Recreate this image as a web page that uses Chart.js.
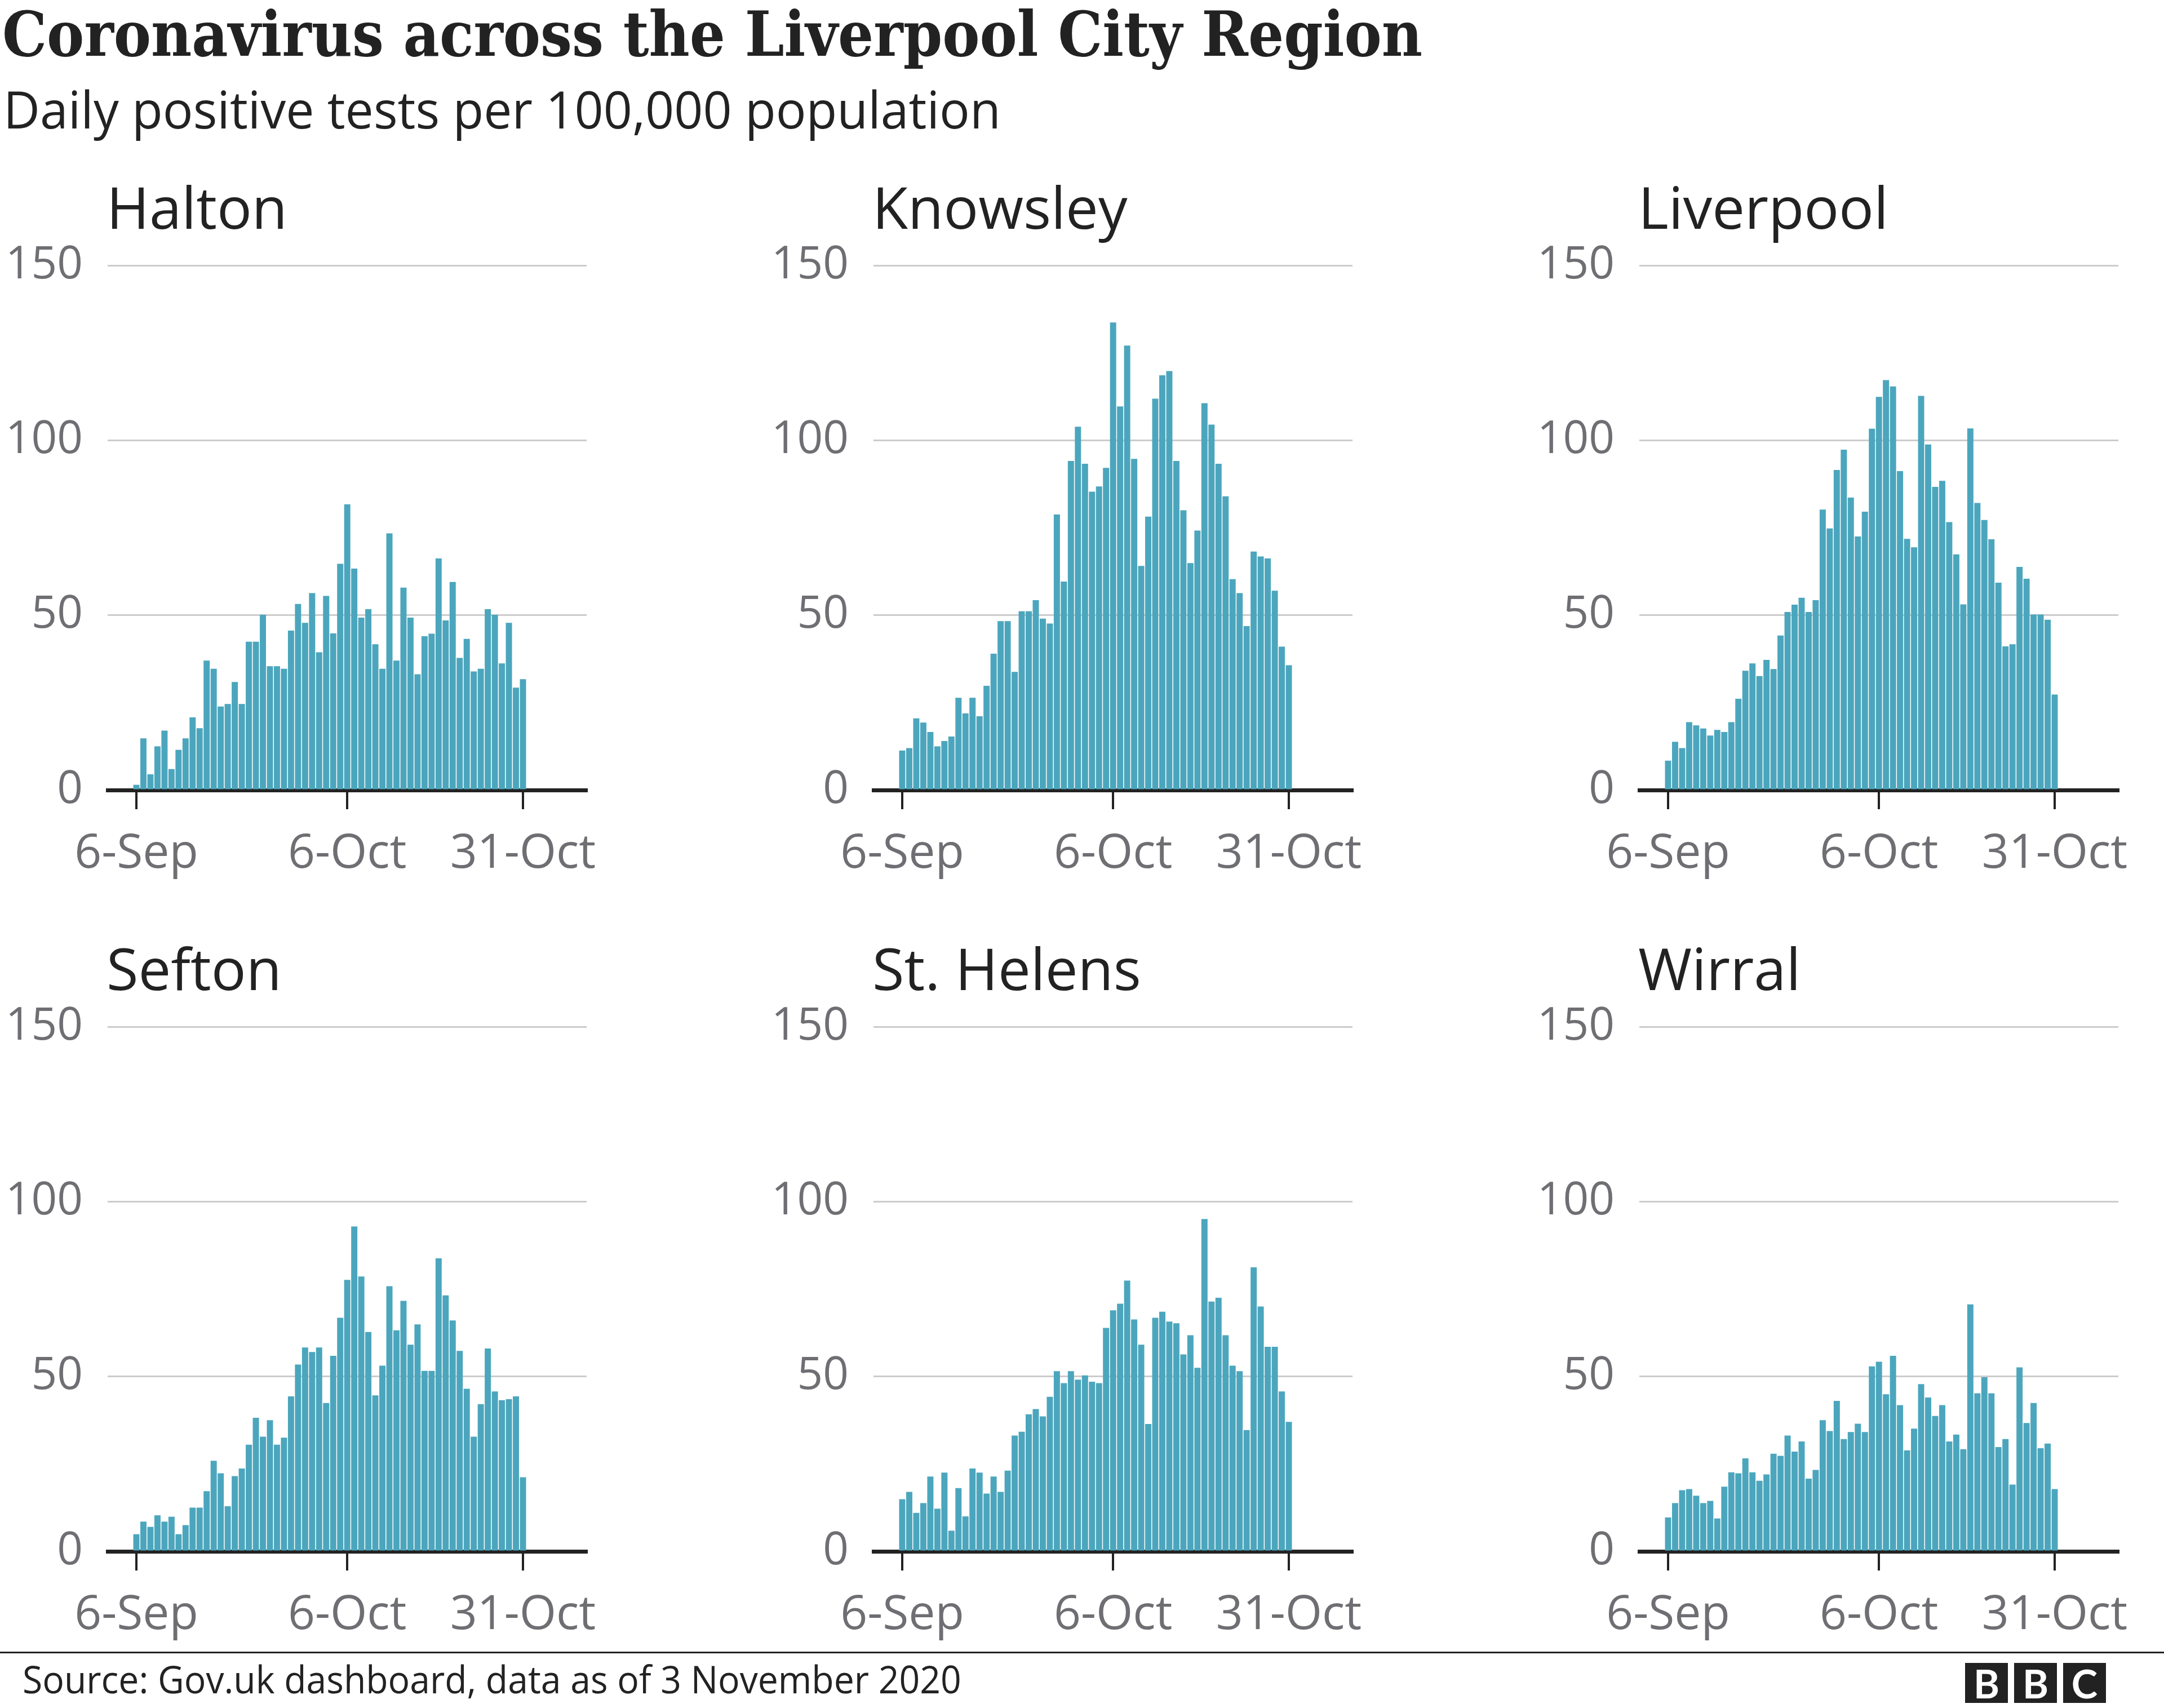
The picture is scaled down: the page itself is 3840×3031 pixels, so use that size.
<!DOCTYPE html>
<html>
<head>
<meta charset="utf-8">
<script src="https://cdn.jsdelivr.net/npm/chart.js@4.4.1/dist/chart.umd.min.js"></script>
<style>
  html, body { margin:0; padding:0; background:#fff; }
  body { width:3840px; height:3031px; position:relative; overflow:hidden; }
  .txt { position:absolute; white-space:nowrap; color:#222; z-index:5; transform-origin:0 0; line-height:1.2; }
  canvas.panel { position:absolute; z-index:1; }
  .bbc { position:absolute; background:#222; color:#fff; font-family:Lato, "Open Sans", sans-serif; font-weight:700;
         display:flex; align-items:center; justify-content:center; z-index:5; }
</style>
</head>
<body>
<div id="title" class="txt" style="font-family:'DejaVu Serif', serif; font-weight:700;">Coronavirus across the Liverpool City Region</div>
<div id="subtitle" class="txt" style="font-family:'Open Sans', sans-serif;">Daily positive tests per 100,000 population</div>
<div id="source" class="txt" style="font-family:'Open Sans', sans-serif;">Source: Gov.uk dashboard, data as of 3 November 2020</div>
<div style="position:absolute; left:0; top:2931px; width:3840px; height:3px; background:#222;"></div>
<script>
// ---------------- data ----------------
const areaNames = ['Halton', 'Knowsley', 'Liverpool', 'Sefton', 'St. Helens', 'Wirral'];
const tickDays = [0, 30, 55];
const tickLabels = ['6-Sep', '6-Oct', '31-Oct'];
const yTicks = [0, 50, 100, 150];

const halton = [1.5,14.8,4.5,12.5,17,6,11.5,14.8,20.8,17.7,37,34.7,23.9,24.6,30.9,24.6,42.4,42.4,50.1,35.4,35.4,34.7,45.6,53.2,47.8,56.3,39.4,55.5,44.8,64.7,81.7,63.3,49.3,51.7,41.7,34.7,73.4,37,57.9,49.3,33.1,44,44.7,66.2,48.5,59.5,37.8,43.2,33.9,34.7,51.7,50.1,36.2,47.8,29.3,31.7];
const knowsley = [11.3,12,20.5,19.3,16.6,12.5,14,15.3,26.4,21.9,26.4,21.1,29.8,39,48.3,48.3,33.8,51.1,51.1,54.3,49,47.6,78.8,59.6,94.1,103.9,93.3,85.3,86.8,92.1,133.7,109.7,127.1,94.7,64.1,78.2,111.9,118.6,119.8,94.1,80,64.9,74.2,110.6,104.5,93.3,84,60.3,56.3,46.9,68.2,66.8,66.2,57,41,35.7];
const liverpool = [8.4,13.8,12,19.4,18.5,17.6,15.6,17.2,16.6,19.4,26.1,34.1,36.2,32.6,37.2,34.6,44.2,50.9,53,55,50.9,54.3,80.2,74.8,91.5,97.3,83.6,72.5,79.6,103.3,112.4,117.2,115.4,91.2,71.8,69.4,112.7,98.8,86.7,88.4,76.6,67.4,53.1,103.4,82.1,77.2,71.7,59.3,41.1,41.7,63.8,60.4,50.2,50.2,48.7,27.3];
const sefton = [4.9,8.5,7,10.3,8.5,9.9,4.9,7.5,12.5,12.5,17.2,25.9,22.3,12.9,21.5,23.7,30.5,38.2,32.8,37.5,30.5,32.5,44.3,53.4,58.3,57,58.3,42.4,55.9,66.8,77.6,92.9,78.6,62.7,44.6,53.1,75.8,63.2,71.6,59.1,64.9,51.6,51.6,83.8,73.2,66,57.3,46.5,32.8,42.1,58,45.7,43.2,43.5,44.3,21.2];
const stHelens = [14.9,17,11,13.8,21.4,12.2,22.5,5.9,18.1,10,23.7,22.5,16.5,21.4,17,23.1,33.1,34.2,39.2,40.7,38.6,44.2,51.5,48.1,51.5,49.1,50.3,48.5,48.1,63.9,68.9,70.8,77.4,66.3,59.1,36.4,66.8,68.5,65.7,65.2,56.3,61.8,52.5,95,71.4,72.5,61.8,53.1,51.5,34.7,81.2,70,58.5,58.5,45.7,37];
const wirral = [9.7,13.8,17.5,17.8,15.9,13.8,14.4,9.4,18.5,22.6,22.3,26.6,22.6,20.2,22,27.9,27.3,33.1,28.5,31.4,20.8,23.3,37.5,34.4,43,32.1,34.1,36.5,34.1,52.9,54.2,44.9,55.9,41.8,28.9,35.1,47.8,44,38.7,41.8,31.4,33.4,29.2,70.6,45.2,49.8,45.2,29.8,32.1,19.1,52.6,36.7,42.4,29.5,30.8,17.8];
const areaValues = [halton, knowsley, liverpool, sefton, stHelens, wirral];

// ---------------- layout ----------------
const COL_OFF = [0, 1359, 2718];
const ROW_OFF = [0, 1351];
const Y_LABEL_SIZE = 80, Y_LABEL_PAD = 44;
// Chart.js reserves (label line height / 2 + padding) above the area for the y labels
const AREA_TOP = Y_LABEL_SIZE * 1.2 / 2 + Y_LABEL_PAD;          // 92
const TOP_GRID_Y = 471, ZERO_Y = 1402;                            // page px of 150 / 0 lines in row 1
const CANVAS_TOP = TOP_GRID_Y - AREA_TOP;
const AREA_BOTTOM = ZERO_Y - CANVAS_TOP;
const CANVAS_W = 1130, CANVAS_H = AREA_BOTTOM + 228;
const AREA_LEFT = 191, AREA_RIGHT = 1041;
const FIRST_TICK_PX = 242, LAST_TICK_PX = 928;
const PX_PER_DAY = (LAST_TICK_PX - FIRST_TICK_PX) / (tickDays[2] - tickDays[0]);
const X_MIN = -(FIRST_TICK_PX - AREA_LEFT) / PX_PER_DAY;
const X_MAX = tickDays[2] + (AREA_RIGHT - LAST_TICK_PX) / PX_PER_DAY;
const BAR = '#4ba6bd';
const GREY = '#6e6e73';
const FONT = "'Open Sans', sans-serif";

function placeText(el, left, baseline, size, targetWidth) {
  el.style.fontSize = size + 'px';
  el.style.left = left + 'px';
  el.style.top = '0px';
  const m = document.createElement('span');
  m.style.cssText = 'display:inline-block;width:0;height:0;vertical-align:baseline';
  el.appendChild(m);
  const b = m.offsetTop;
  el.style.top = (baseline - b) + 'px';
  if (targetWidth) {
    const w = el.offsetWidth;
    el.style.transform = 'scaleX(' + (targetWidth / w) + ')';
  }
}

placeText(document.getElementById('title'), 4, 99, 111, 2520);
placeText(document.getElementById('subtitle'), 6, 228, 91, 1770);
placeText(document.getElementById('source'), 40, 3005, 67, 1666);

// BBC logo
['B','B','C'].forEach((ch, i) => {
  const d = document.createElement('div');
  d.className = 'bbc';
  d.textContent = ch;
  d.style.left = (3487 + i * 87) + 'px';
  d.style.top = '2951px';
  d.style.width = '76px';
  d.style.height = '71px';
  d.style.fontSize = '70px';
  document.body.appendChild(d);
});

areaNames.forEach((name, k) => {
  const col = k % 3, row = Math.floor(k / 3);
  const t = document.createElement('div');
  t.className = 'txt';
  t.style.fontFamily = FONT;
  t.textContent = name;
  document.body.appendChild(t);
  placeText(t, COL_OFF[col] + 189, 406 + ROW_OFF[row], 103);

  const cv = document.createElement('canvas');
  cv.className = 'panel';
  cv.width = CANVAS_W; cv.height = CANVAS_H;
  cv.style.width = CANVAS_W + 'px'; cv.style.height = CANVAS_H + 'px';
  cv.style.left = COL_OFF[col] + 'px';
  cv.style.top = (CANVAS_TOP + ROW_OFF[row]) + 'px';
  document.body.appendChild(cv);

  const vals = areaValues[k];
  new Chart(cv.getContext('2d'), {
    type: 'bar',
    data: {
      datasets: [{
        data: vals.map((v, i) => ({ x: i, y: v })),
        backgroundColor: BAR,
        borderWidth: 0,
        barPercentage: 0.88,
        categoryPercentage: 1.0
      }]
    },
    options: {
      responsive: false,
      animation: false,
      devicePixelRatio: 1,
      layout: { padding: { top: 0, right: CANVAS_W - AREA_RIGHT, bottom: 0, left: 0 } },
      plugins: { legend: { display: false }, tooltip: { enabled: false }, title: { display: false } },
      scales: {
        x: {
          type: 'linear',
          min: X_MIN, max: X_MAX,
          offset: false,
          afterBuildTicks: s => { s.ticks = tickDays.map(v => ({ value: v })); },
          afterFit: s => { s.height = CANVAS_H - AREA_BOTTOM; },
          ticks: {
            autoSkip: false, maxRotation: 0, minRotation: 0, padding: 30,
            color: GREY, font: { family: FONT, size: 84 },
            callback: (v) => tickLabels[tickDays.indexOf(v)]
          },
          grid: { offset: false, drawOnChartArea: false, drawTicks: true, tickLength: 34, tickWidth: 4, tickColor: '#222', color: '#222', lineWidth: 4 },
          border: { display: true, color: '#222', width: 7 }
        },
        y: {
          min: 0, max: 150,
          afterBuildTicks: s => { s.ticks = yTicks.map(v => ({ value: v })); },
          afterFit: s => { s.width = AREA_LEFT; },
          ticks: { padding: Y_LABEL_PAD, color: GREY, font: { family: FONT, size: Y_LABEL_SIZE } },
          grid: { color: '#cccccc', lineWidth: 3, drawTicks: false },
          border: { display: false }
        }
      }
    }
  });
});
</script>
</body>
</html>
